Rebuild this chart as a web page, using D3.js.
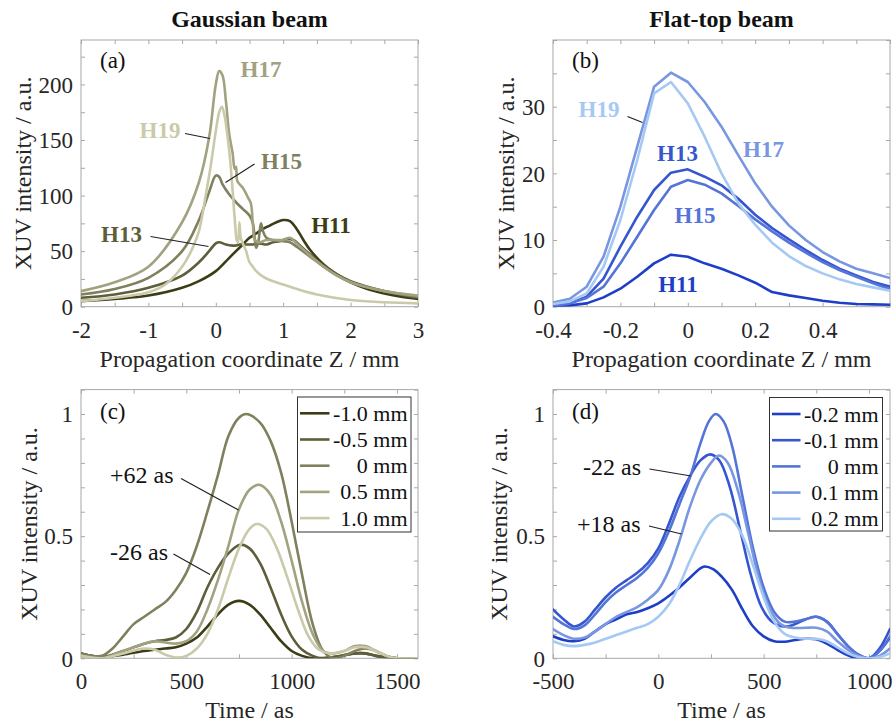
<!DOCTYPE html>
<html>
<head>
<meta charset="utf-8">
<script src="https://cdn.jsdelivr.net/npm/d3@7"></script>
<style>
  body { margin: 0; background: #fff; }
  text { font-family: "Liberation Serif", "Times New Roman", serif; }
</style>
</head>
<body>
<svg id="fig" width="895" height="722"></svg>
<script>
// ---------- palettes ----------
const olive = ['#3c3c16', '#5e5e3b', '#80805e', '#a2a281', '#cacaaa'];
const blue  = ['#1e3ec6', '#3656cf', '#5474d8', '#7896e2', '#a6c9f4'];

// ---------- (a) Gaussian beam: harmonic yield vs. Z [mm, a.u.] ----------
const aH11 = [[-2,5],[-1.5,7],[-1,10],[-0.5,17],[-0.25,23],[0,32],[0.2,44],[0.4,56],[0.5,62],[0.6,66],[0.7,70],[0.8,73],[0.9,76],[1.0,78],[1.1,77],[1.2,70],[1.3,60],[1.4,51],[1.6,38],[1.8,29],[2,22],[2.25,16],[2.5,12],[2.75,9],[3,7]];
const aH13 = [[-2,8],[-1.5,11],[-1,17],[-0.5,28],[-0.25,40],[-0.1,50],[0,57],[0.05,58],[0.15,56],[0.25,55],[0.3,55],[0.35,56],[0.45,56],[0.55,56],[0.65,57],[0.75,56],[0.85,58],[0.95,59],[1.05,61],[1.15,60],[1.25,55],[1.4,47],[1.6,37],[1.8,29],[2,23],[2.5,14],[3,8]];
const aH15 = [[-2,11],[-1.5,16],[-1,26],[-0.5,50],[-0.25,78],[-0.1,103],[0,118],[0.05,117],[0.1,110],[0.2,101],[0.3,94],[0.4,88],[0.5,82],[0.55,75],[0.58,60],[0.6,53],[0.63,58],[0.67,75],[0.7,68],[0.75,62],[0.85,60],[1.0,59],[1.1,58],[1.2,54],[1.4,45],[1.6,36],[1.8,28],[2,22],[2.5,14],[3,9]];
const aH17 = [[-2,14],[-1.5,22],[-1,36],[-0.5,76],[-0.25,112],[-0.1,152],[0,200],[0.05,212],[0.1,208],[0.15,185],[0.2,155],[0.25,138],[0.28,124],[0.3,126],[0.32,113],[0.4,107],[0.48,98],[0.52,93],[0.55,75],[0.58,60],[0.65,58],[0.75,60],[0.9,60],[1.0,60],[1.1,62],[1.2,57],[1.4,46],[1.6,36],[1.8,28],[2,22],[2.5,14],[3,10]];
const aH19 = [[-2,5],[-1.5,8],[-1,13],[-0.75,20],[-0.5,36],[-0.35,52],[-0.25,68],[-0.15,100],[-0.08,125],[0,158],[0.05,175],[0.09,180],[0.13,172],[0.17,155],[0.21,134],[0.25,104],[0.29,72],[0.31,60],[0.33,58],[0.35,76],[0.37,62],[0.4,57],[0.45,50],[0.5,40],[0.55,36],[0.6,32],[0.7,27],[0.8,24],[1.0,20],[1.25,15],[1.5,11],[2,6],[2.5,4],[3,3]];

// ---------- (b) Flat-top beam: harmonic yield vs. Z ----------
const bZ   = [-0.4,-0.35,-0.3,-0.25,-0.2,-0.15,-0.1,-0.05,0,0.05,0.1,0.15,0.2,0.25,0.3,0.35,0.4,0.45,0.5,0.55,0.6];
const bH11 = [0.1,0.2,0.5,1.4,2.7,4.5,6.5,7.8,7.5,6.5,5.7,4.7,3.6,2.2,1.7,1.3,0.9,0.6,0.4,0.35,0.3];
const bH13 = [0.25,0.5,1.5,4.2,9,13.5,17.5,20.1,20.6,19.5,18.2,16.2,13.8,11.8,10.1,8.5,7,5.7,4.7,3.7,3];
const bH15 = [0.1,0.5,1.3,3,6.5,10.5,14.5,18,19,18.3,17,15.1,13.1,11.3,9.6,8.1,6.7,5.5,4.5,3.5,2.6];
const bH17 = [0.6,1.2,3,7.5,15,24,33,35.1,33.7,30.7,27,22.7,18.5,15,12.2,10,8.2,6.8,5.7,5,4.3];
const bH19 = [0.4,0.8,2,6,13,22,32,33.7,30.5,25.5,20,15.5,12.3,9.6,7.6,6.1,5,4.1,3.4,2.9,2.4];

// ---------- (c) Gaussian beam: attosecond pulses at several Z ----------
const cM10 = [[0,0.02],[50,0.01],[100,0.005],[200,0.015],[300,0.03],[400,0.04],[450,0.045],[500,0.06],[550,0.085],[600,0.13],[650,0.18],[700,0.22],[750,0.235],[800,0.22],[850,0.18],[900,0.125],[950,0.07],[1000,0.03],[1050,0.01],[1100,0.0],[1200,0.005],[1300,0.02],[1350,0.02],[1400,0.01],[1500,0.0],[1600,0.0]];
const cM05 = [[0,0.02],[50,0.01],[100,0.005],[200,0.03],[300,0.06],[350,0.07],[400,0.075],[450,0.085],[500,0.12],[550,0.19],[600,0.29],[650,0.37],[700,0.43],[755,0.465],[800,0.45],[850,0.39],[900,0.29],[950,0.18],[1000,0.09],[1050,0.035],[1100,0.01],[1150,0.0],[1200,0.005],[1300,0.02],[1350,0.02],[1400,0.01],[1500,0.0],[1600,0.0]];
const cP00 = [[0,0.02],[50,0.01],[100,0.01],[150,0.04],[200,0.09],[250,0.14],[300,0.17],[350,0.2],[400,0.23],[450,0.28],[500,0.35],[550,0.46],[600,0.6],[650,0.75],[700,0.91],[750,0.985],[785,1.0],[850,0.965],[900,0.89],[950,0.76],[1000,0.56],[1050,0.34],[1100,0.14],[1150,0.03],[1200,0.0],[1250,0.01],[1300,0.03],[1350,0.04],[1400,0.03],[1450,0.01],[1500,0.0],[1600,0.0]];
const cP05 = [[0,0.01],[100,0.0],[200,0.03],[300,0.06],[350,0.07],[400,0.065],[450,0.06],[500,0.07],[550,0.11],[600,0.2],[650,0.32],[700,0.46],[750,0.61],[800,0.69],[848,0.71],[900,0.67],[950,0.56],[1000,0.4],[1050,0.23],[1100,0.1],[1150,0.03],[1200,0.02],[1250,0.03],[1300,0.05],[1350,0.05],[1400,0.03],[1450,0.01],[1500,0.0],[1600,0.0]];
const cP10 = [[0,0.01],[100,0.0],[200,0.02],[300,0.04],[350,0.035],[400,0.015],[450,0.003],[500,0.01],[550,0.04],[600,0.1],[650,0.2],[700,0.33],[750,0.45],[800,0.53],[835,0.55],[880,0.53],[930,0.45],[980,0.33],[1030,0.2],[1080,0.09],[1130,0.035],[1180,0.02],[1250,0.03],[1300,0.045],[1350,0.045],[1400,0.03],[1450,0.01],[1500,0.0],[1600,0.0]];

// ---------- (d) Flat-top beam: attosecond pulses at several Z ----------
const dM02 = [[-500,0.09],[-450,0.075],[-400,0.07],[-350,0.08],[-300,0.11],[-250,0.14],[-200,0.16],[-150,0.18],[-100,0.19],[-50,0.205],[0,0.225],[50,0.255],[100,0.29],[150,0.33],[215,0.375],[260,0.365],[300,0.335],[350,0.28],[400,0.2],[450,0.13],[500,0.09],[550,0.07],[600,0.068],[650,0.075],[700,0.08],[750,0.078],[800,0.06],[850,0.035],[900,0.012],[950,0.0],[1000,0.0],[1050,0.03],[1100,0.085]];
const dM01 = [[-500,0.2],[-450,0.16],[-400,0.13],[-350,0.15],[-300,0.2],[-250,0.25],[-200,0.29],[-150,0.32],[-100,0.35],[-50,0.39],[0,0.45],[50,0.55],[100,0.66],[150,0.745],[200,0.81],[247,0.835],[290,0.81],[340,0.7],[390,0.52],[440,0.34],[490,0.21],[540,0.15],[600,0.13],[650,0.14],[700,0.16],[750,0.17],[800,0.15],[850,0.1],[900,0.05],[950,0.015],[1000,0.0],[1050,0.04],[1100,0.12]];
const dP00 = [[-500,0.17],[-450,0.14],[-400,0.12],[-350,0.135],[-300,0.18],[-250,0.23],[-200,0.27],[-150,0.3],[-100,0.33],[-50,0.37],[0,0.43],[50,0.52],[100,0.63],[150,0.74],[200,0.88],[240,0.97],[272,1.0],[310,0.97],[350,0.87],[400,0.66],[450,0.45],[500,0.29],[550,0.19],[600,0.15],[650,0.15],[700,0.16],[750,0.17],[800,0.15],[850,0.1],[900,0.05],[950,0.015],[1000,0.0],[1050,0.03],[1100,0.09]];
const dP01 = [[-500,0.12],[-450,0.095],[-400,0.08],[-350,0.085],[-300,0.11],[-250,0.14],[-200,0.17],[-150,0.19],[-100,0.21],[-50,0.24],[0,0.28],[50,0.36],[100,0.48],[150,0.62],[200,0.73],[250,0.8],[288,0.83],[330,0.8],[380,0.68],[430,0.5],[480,0.32],[530,0.2],[580,0.14],[630,0.125],[700,0.125],[750,0.125],[800,0.11],[850,0.07],[900,0.035],[950,0.01],[1000,0.0],[1050,0.01],[1100,0.04]];
const dP02 = [[-500,0.07],[-450,0.055],[-400,0.05],[-350,0.055],[-300,0.065],[-250,0.08],[-200,0.095],[-150,0.11],[-100,0.125],[-50,0.14],[0,0.17],[50,0.22],[100,0.3],[150,0.4],[200,0.49],[250,0.56],[300,0.59],[350,0.57],[400,0.5],[450,0.38],[500,0.25],[550,0.15],[600,0.1],[650,0.085],[700,0.08],[750,0.08],[800,0.07],[850,0.045],[900,0.02],[950,0.005],[1000,0.0],[1050,0.005],[1100,0.02]];

// ---------- tick values ----------
const aXTicks = d3.range(-2, 3.01, 0.5),  aXLabels = [-2,-1,0,1,2,3];
const aYTicks = d3.range(0, 240.1, 25),   aYLabels = [0,50,100,150,200];
const bXTicks = d3.range(-0.4, 0.61, 0.1), bXLabels = [-0.4,-0.2,0,0.2,0.4];
const bYTicks = d3.range(0, 40.1, 5),     bYLabels = [0,10,20,30];
const cXTicks = d3.range(0, 1600.1, 250), cXLabels = [0,500,1000,1500];
const dXTicks = d3.range(-500, 1100.1, 250), dXLabels = [-500,0,500,1000];
const pYTicks = d3.range(0, 1.11, 0.1),   pYLabels = [0,0.5,1];

const legendC = ['-1.0 mm', '-0.5 mm', '0 mm', '0.5 mm', '1.0 mm'];
const legendD = ['-0.2 mm', '-0.1 mm', '0 mm', '0.1 mm', '0.2 mm'];
const harmonics = ['H11', 'H13', 'H15', 'H17', 'H19'];

const svg = d3.select('#fig');
const axisColor = '#a8a8a8';
const textColor = '#262626';

const fmt = d => String(Math.round(d * 1000) / 1000);
const near = (v, list) => list.some(l => Math.abs(l - v) < 1e-6);

function makePanel(p) {
  const x = d3.scaleLinear().domain(p.xd).range([p.x0, p.x1]);
  const y = d3.scaleLinear().domain(p.yd).range([p.y1, p.y0]);
  const g = svg.append('g');

  const style = sel => {
    sel.select('.domain').remove();
    sel.selectAll('.tick line').attr('stroke', axisColor).attr('stroke-width', 1);
  };
  // bottom axis with labels
  const gb = g.append('g').attr('transform', `translate(0,${p.y1})`)
    .call(d3.axisBottom(x).tickValues(p.xt).tickSizeInner(-4).tickSizeOuter(0)
      .tickFormat(d => near(d, p.xl) ? fmt(d) : ''));
  style(gb);
  gb.selectAll('.tick text').attr('y', 31).attr('dy', null)
    .attr('font-size', 23).attr('fill', textColor)
    .attr('font-family', '"Liberation Serif", serif');
  // top axis (ticks only)
  const gt = g.append('g').attr('transform', `translate(0,${p.y0})`)
    .call(d3.axisTop(x).tickValues(p.xt).tickSizeInner(-4).tickSizeOuter(0).tickFormat(''));
  style(gt);
  // left axis with labels
  const gl = g.append('g').attr('transform', `translate(${p.x0},0)`)
    .call(d3.axisLeft(y).tickValues(p.yt).tickSizeInner(-4).tickSizeOuter(0)
      .tickFormat(d => near(d, p.yl) ? fmt(d) : ''));
  style(gl);
  gl.selectAll('.tick text').attr('x', -8).attr('dy', '0.34em')
    .attr('font-size', 23).attr('fill', textColor)
    .attr('font-family', '"Liberation Serif", serif');
  // right axis (ticks only)
  const gr = g.append('g').attr('transform', `translate(${p.x1},0)`)
    .call(d3.axisRight(y).tickValues(p.yt).tickSizeInner(-4).tickSizeOuter(0).tickFormat(''));
  style(gr);
  // frame
  g.append('rect').attr('x', p.x0).attr('y', p.y0)
    .attr('width', p.x1 - p.x0).attr('height', p.y1 - p.y0)
    .attr('fill', 'none').attr('stroke', axisColor).attr('stroke-width', 1);

  // curves
  const clipId = 'clip' + p.id;
  svg.append('clipPath').attr('id', clipId).append('rect')
    .attr('x', p.x0).attr('y', p.y0).attr('width', p.x1 - p.x0).attr('height', p.y1 - p.y0);
  const line = d3.line().x(d => x(d[0])).y(d => y(d[1])).curve(p.curve);
  const cg = g.append('g').attr('clip-path', `url(#${clipId})`);
  p.series.forEach((s, i) => {
    cg.append('path').datum(s).attr('d', line)
      .attr('fill', 'none').attr('stroke', p.colors[i])
      .attr('stroke-width', 2.6).attr('stroke-linejoin', 'round').attr('stroke-linecap', 'round');
  });

  // axis titles
  g.append('text').attr('x', (p.x0 + p.x1) / 2).attr('y', p.y1 + 60)
    .attr('text-anchor', 'middle').attr('font-size', 24).attr('fill', textColor)
    .text(p.xlabel);
  g.append('text')
    .attr('transform', `translate(${p.ylabX},${(p.y0 + p.y1) / 2}) rotate(-90)`)
    .attr('text-anchor', 'middle').attr('font-size', 24).attr('fill', textColor)
    .text('XUV intensity / a.u.');
  // panel tag
  g.append('text').attr('x', p.x0 + 19).attr('y', p.tagY)
    .attr('font-size', 23).attr('fill', '#111').text(p.tag);

  return { g, x, y };
}

const lin = d3.curveLinear;
const smooth = d3.curveCatmullRom.alpha(0.5);

// ----- panel (a)
const A = makePanel({
  id: 'a', x0: 81, x1: 418, y0: 40, y1: 306.7, xd: [-2, 3], yd: [0, 240],
  xt: aXTicks, xl: aXLabels, yt: aYTicks, yl: aYLabels,
  series: [aH11, aH13, aH15, aH17, aH19], colors: olive, curve: smooth,
  xlabel: 'Propagation coordinate Z / mm', ylabX: 31, tag: '(a)', tagY: 68
});
// ----- panel (b)
const B = makePanel({
  id: 'b', x0: 553, x1: 890, y0: 40, y1: 306.7, xd: [-0.4, 0.6], yd: [0, 40],
  xt: bXTicks, xl: bXLabels, yt: bYTicks, yl: bYLabels,
  series: [bH11, bH13, bH15, bH17, bH19].map(v => v.map((d, i) => [bZ[i], d])),
  colors: blue, curve: lin,
  xlabel: 'Propagation coordinate Z / mm', ylabX: 514, tag: '(b)', tagY: 68
});
// ----- panel (c)
const C = makePanel({
  id: 'c', x0: 81, x1: 418, y0: 389.6, y1: 658.3, xd: [0, 1600], yd: [0, 1.1],
  xt: cXTicks, xl: cXLabels, yt: pYTicks, yl: pYLabels,
  series: [cM10, cM05, cP00, cP05, cP10], colors: olive, curve: smooth,
  xlabel: 'Time / as', ylabX: 37, tag: '(c)', tagY: 419
});
// ----- panel (d)
const D = makePanel({
  id: 'd', x0: 553, x1: 890, y0: 389.6, y1: 658.3, xd: [-500, 1100], yd: [0, 1.1],
  xt: dXTicks, xl: dXLabels, yt: pYTicks, yl: pYLabels,
  series: [dM02, dM01, dP00, dP01, dP02], colors: blue, curve: smooth,
  xlabel: 'Time / as', ylabX: 507, tag: '(d)', tagY: 419
});

// ----- column titles
svg.append('text').attr('x', 249.5).attr('y', 27).attr('text-anchor', 'middle')
  .attr('font-size', 24).attr('font-weight', 'bold').attr('fill', '#111').text('Gaussian beam');
svg.append('text').attr('x', 721.5).attr('y', 27).attr('text-anchor', 'middle')
  .attr('font-size', 24).attr('font-weight', 'bold').attr('fill', '#111').text('Flat-top beam');

// ----- harmonic labels with leader lines
function harmonicLabels(P, colors, spots) {
  spots.forEach(s => {
    P.g.append('text').attr('x', s.x).attr('y', s.y).attr('text-anchor', 'middle')
      .attr('font-size', 23).attr('font-weight', 'bold').attr('fill', colors[s.i]).text(harmonics[s.i]);
    if (s.lead) {
      P.g.append('line').attr('x1', s.lead[0]).attr('y1', s.lead[1])
        .attr('x2', s.lead[2]).attr('y2', s.lead[3])
        .attr('stroke', '#222').attr('stroke-width', 1.2);
    }
  });
}
harmonicLabels(A, olive, [
  { i: 3, x: 261, y: 77 },
  { i: 4, x: 160, y: 138, lead: [185, 133.5, 210, 138.5] },
  { i: 2, x: 281.5, y: 168.5, lead: [254.5, 164, 225.5, 182.5] },
  { i: 1, x: 121.5, y: 241.5, lead: [150.5, 236.5, 208.5, 246.5] },
  { i: 0, x: 331, y: 233 }
]);
harmonicLabels(B, blue, [
  { i: 4, x: 599, y: 117, lead: [627.5, 116.5, 642.5, 122.5] },
  { i: 1, x: 677.5, y: 160.5 },
  { i: 3, x: 763.5, y: 156.5 },
  { i: 2, x: 695, y: 223 },
  { i: 0, x: 678, y: 291.5 }
]);

// ----- delay annotations
function note(P, txt, x, y, lead) {
  P.g.append('text').attr('x', x).attr('y', y).attr('font-size', 24).attr('fill', '#111').text(txt);
  P.g.append('line').attr('x1', lead[0]).attr('y1', lead[1]).attr('x2', lead[2]).attr('y2', lead[3])
    .attr('stroke', '#222').attr('stroke-width', 1.2);
}
note(C, '+62 as', 110, 483, [181, 478.5, 238.5, 510]);
note(C, '-26 as', 110, 560, [173.5, 554, 210, 574.5]);
note(D, '-22 as', 583, 475, [649.5, 469, 691, 476]);
note(D, '+18 as', 577, 531.5, [649, 526, 681.5, 534]);

// ----- legends
function legend(P, box, names, colors) {
  const lg = P.g.append('g');
  lg.append('rect').attr('x', box.x0).attr('y', box.y0)
    .attr('width', box.x1 - box.x0).attr('height', box.y1 - box.y0)
    .attr('fill', '#fff').attr('stroke', '#333').attr('stroke-width', 1);
  names.forEach((n, i) => {
    const yy = box.r0 + i * box.dr;
    lg.append('line').attr('x1', box.l0).attr('x2', box.l1).attr('y1', yy).attr('y2', yy)
      .attr('stroke', colors[i]).attr('stroke-width', 2.6);
    lg.append('text').attr('x', box.tx).attr('y', yy + 7.5).attr('text-anchor', 'end')
      .attr('font-size', 22).attr('fill', '#111').text(n);
  });
}
legend(C, { x0: 297.5, x1: 411, y0: 397, y1: 532, l0: 300, l1: 329.5, tx: 407.5, r0: 413.3, dr: 26.2 }, legendC, olive);
legend(D, { x0: 769.5, x1: 882.5, y0: 397.5, y1: 531, l0: 772, l1: 800.5, tx: 878.5, r0: 414, dr: 26.2 }, legendD, blue);
</script>
</body>
</html>
